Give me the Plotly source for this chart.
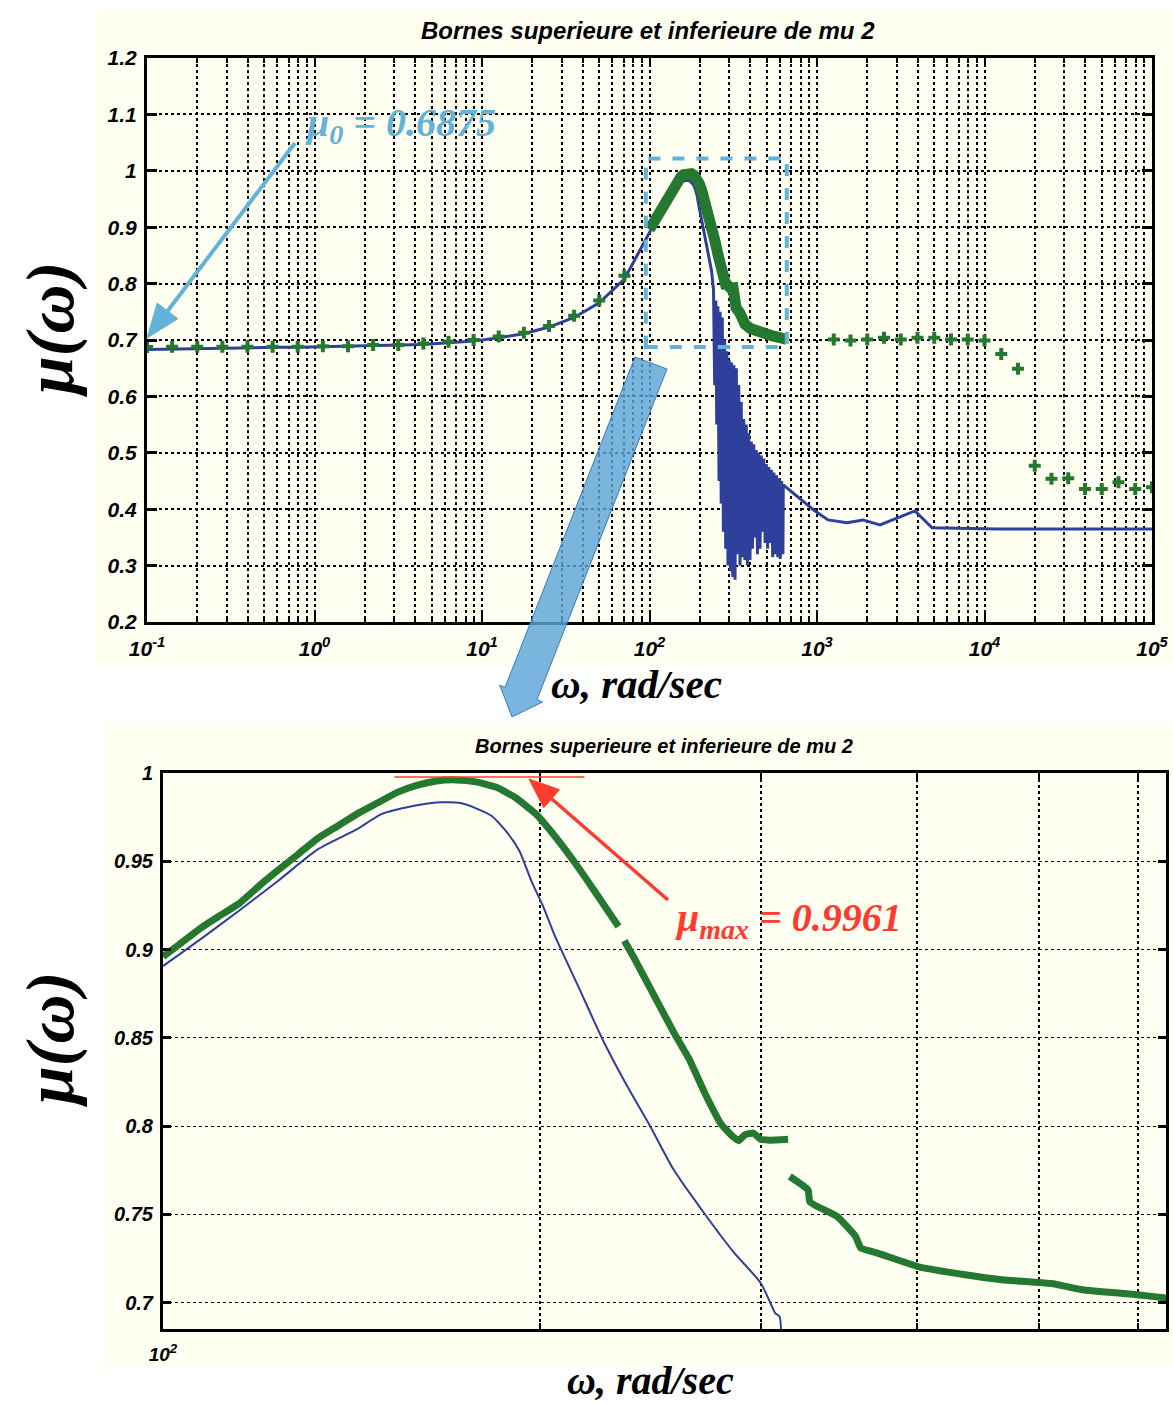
import plotly.graph_objects as go

# ------------------------------------------------------------------ data
# sparse low-frequency grid (log10 of omega)
low_exp = [-1.0, -0.85, -0.7, -0.55, -0.4, -0.25, -0.1, 0.05, 0.2, 0.35,
           0.5, 0.65, 0.8, 0.95, 1.1, 1.25, 1.4, 1.55, 1.7, 1.85]
green_low = [0.6875, 0.688, 0.688, 0.688, 0.688, 0.688, 0.688, 0.689, 0.689, 0.691,
             0.691, 0.694, 0.697, 0.700, 0.706, 0.713, 0.725, 0.743, 0.770, 0.814]
blue_low = [0.683, 0.684, 0.685, 0.686, 0.686, 0.687, 0.687, 0.688, 0.688, 0.689,
            0.690, 0.692, 0.695, 0.698, 0.704, 0.711, 0.723, 0.740, 0.766, 0.808]

# dense upper bound around the peak (None = break in the curve)
w_green_zoom = [100, 103.1, 106.9, 110.9, 115.0, 119.3, 123.6, 128.2, 132.9, 137.9,
                143.0, 148.3, 153.8, 159.4, 165.3, 171.4, 177.8, 184.4, 191.2, 198.3,
                205.6, 213.3, 221.1, 231.0, None, 233.5, 237.8, 246.6, 255.7, 263.0,
                271.0, 279.0, 285.1, 288.2, 291.4, 296.0, 300.0, 305.0, 315.5, None,
                316.5, 327.3, 328.4, 345.3, 357.2, 360.7, 371.8, 400.5, 436.9, 467.3,
                513.4, 542.0, 599.2, 632.3, 658.0]
green_zoom = [0.896, 0.903, 0.9116, 0.919, 0.926, 0.936, 0.945, 0.954, 0.963, 0.970,
              0.977, 0.983, 0.989, 0.993, 0.9955, 0.9961, 0.995, 0.992, 0.986, 0.977,
              0.964, 0.949, 0.933, 0.913, None, 0.905, 0.895, 0.874, 0.853, 0.838,
              0.818, 0.801, 0.794, 0.7917, 0.795, 0.796, 0.7925, 0.792, 0.7925, None,
              0.7714, 0.7638, 0.757, 0.7487, 0.7374, 0.7308, 0.728, 0.7204, 0.7157, 0.7129,
              0.7106, 0.7072, 0.7044, 0.7025, 0.701]

# dense lower bound around the peak
w_blue_zoom = [100, 106.9, 115.0, 123.6, 132.9, 143.0, 149.4, 158.3, 165.3, 172.7,
               177.8, 183.0, 188.4, 192.6, 196.8, 201.2, 205.6, 214.9, 224.5, 234.4,
               244.8, 255.7, 270.8, 285.1, 300.0, 305.5, 308.1, 310.6, 311.0]
blue_zoom = [0.8906, 0.9053, 0.922, 0.939, 0.9567, 0.9683, 0.9767, 0.9813, 0.9833, 0.983,
             0.980, 0.9756, 0.966, 0.9557, 0.9389, 0.9242, 0.9074, 0.878, 0.8486, 0.8234,
             0.800, 0.7752, 0.750, 0.729, 0.7111, 0.6996, 0.694, 0.692, 0.620]

# oscillating lower bound (top chart)
w_spike = [241, 245, 249, 252, 256, 260, 264, 268, 272, 276, 281, 285, 290, 294, 299,
           304, 309, 314, 319, 324, 330, 335, 341, 347, 353, 359, 365, 371, 378, 384,
           391, 398, 405, 412, 419, 426, 434, 441, 449, 457, 465, 473, 481, 490, 498,
           507, 516, 525, 534, 544, 553, 563, 573, 583, 594, 604, 615, 626]
blue_spike = [0.79, 0.62, 0.77, 0.55, 0.76, 0.45, 0.75, 0.41, 0.74, 0.36, 0.70, 0.33,
              0.68, 0.30, 0.665, 0.29, 0.66, 0.28, 0.655, 0.275, 0.65, 0.32, 0.62, 0.30,
              0.59, 0.315, 0.56, 0.31, 0.55, 0.30, 0.535, 0.31, 0.52, 0.33, 0.515, 0.35,
              0.505, 0.32, 0.50, 0.33, 0.495, 0.36, 0.49, 0.34, 0.48, 0.33, 0.475, 0.34,
              0.47, 0.315, 0.465, 0.32, 0.46, 0.315, 0.455, 0.312, 0.45, 0.32]

# high-frequency tail of the lower bound
w_blue_tail = [629, 950, 1164, 1511, 1884, 2376, 3845, 4863, 11880, 100000]
blue_tail = [0.443, 0.399, 0.381, 0.376, 0.381, 0.372, 0.397, 0.367, 0.365, 0.365]

# sparse high-frequency upper bound markers (log10 of omega)
high_exp = [3.1, 3.2, 3.3, 3.4, 3.5, 3.6, 3.7, 3.8, 3.9, 4.0,
            4.1, 4.2, 4.3, 4.4, 4.5, 4.6, 4.7, 4.8, 4.9, 5.0]
green_high = [0.701, 0.699, 0.701, 0.704, 0.701, 0.704, 0.704, 0.701, 0.701, 0.699,
              0.675, 0.649, 0.477, 0.454, 0.455, 0.436, 0.436, 0.448, 0.436, 0.439]

mu0 = 0.6875
mu_max = 0.9961

top_xticks = [0.1, 1, 10, 100, 1000, 10000, 100000]
top_xticktext = ["10<sup>-1</sup>", "10<sup>0</sup>", "10<sup>1</sup>", "10<sup>2</sup>",
                 "10<sup>3</sup>", "10<sup>4</sup>", "10<sup>5</sup>"]
top_yticks = [0.2, 0.3, 0.4, 0.5, 0.6, 0.7, 0.8, 0.9, 1.0, 1.1, 1.2]
top_yticktext = ["0.2", "0.3", "0.4", "0.5", "0.6", "0.7", "0.8", "0.9", "1", "1.1", "1.2"]
bot_xticks = [100]
bot_xticktext = ["10<sup>2</sup>"]
bot_xminor = [200, 300, 400, 500, 600]
bot_yticks = [0.7, 0.75, 0.8, 0.85, 0.9, 0.95, 1.0]
bot_yticktext = ["0.7", "0.75", "0.8", "0.85", "0.9", "0.95", "1"]

title_text = "Bornes superieure et inferieure de mu 2"

# ------------------------------------------------------------------ styles
W, H = 1173, 1404
CREAM = "#FFFFF2"
GREEN = "#25782F"
BLUE = "#2E3F9C"
LBLUE = "#63B3D8"
RED = "#FF3B2F"
SANS = "Liberation Sans"
SERIF = "Liberation Serif"


def px(x):
    return x / W


def py(y):
    return 1 - y / H


w_low = [10 ** e for e in low_exp]
w_high = [10 ** e for e in high_exp]

# top-chart lower bound: low part + smooth part up to the first spike + spikes + tail
n_smooth = 20
w_blue_top = w_low + w_blue_zoom[:n_smooth] + w_spike + w_blue_tail
blue_top = blue_low + blue_zoom[:n_smooth] + blue_spike + blue_tail

fig = go.Figure()

# ---- top chart
fig.add_trace(go.Scatter(x=w_blue_top, y=blue_top, mode="lines",
                         line=dict(color=BLUE, width=3), xaxis="x", yaxis="y"))
fig.add_trace(go.Scatter(x=w_green_zoom, y=green_zoom, mode="lines",
                         line=dict(color=GREEN, width=11), connectgaps=True,
                         xaxis="x", yaxis="y"))
fig.add_trace(go.Scatter(x=w_low + w_high, y=green_low + green_high, mode="markers",
                         marker=dict(symbol="cross", size=10, color=GREEN,
                                     line=dict(width=0)), xaxis="x", yaxis="y"))

# ---- bottom chart
fig.add_trace(go.Scatter(x=w_blue_zoom, y=blue_zoom, mode="lines",
                         line=dict(color=BLUE, width=2, shape="spline", smoothing=0.6),
                         xaxis="x2", yaxis="y2"))
fig.add_trace(go.Scatter(x=w_green_zoom, y=green_zoom, mode="lines",
                         line=dict(color=GREEN, width=7, shape="spline", smoothing=0.4),
                         connectgaps=False, xaxis="x2", yaxis="y2"))

tickfont_top = dict(family=SANS, size=21, color="black", weight="bold", style="italic")
tickfont_bot = dict(family=SANS, size=20, color="black", weight="bold", style="italic")

grid_common = dict(showgrid=True, gridcolor="black", griddash="dot",
                   showline=True, linecolor="black", mirror="ticks",
                   ticks="inside", tickcolor="black", zeroline=False,
                   automargin=False)

minor_vals = [m * 10 ** d for d in range(-1, 5) for m in range(2, 10)]

fig.update_layout(
    width=W, height=H,
    margin=dict(l=0, r=0, t=0, b=0),
    paper_bgcolor="white",
    plot_bgcolor=CREAM,
    showlegend=False,
    xaxis=dict(type="log", range=[-1, 5],
               domain=[px(147), px(1152)], anchor="y",
               tickmode="array", tickvals=top_xticks, ticktext=top_xticktext,
               tickfont=tickfont_top, ticklen=9, tickwidth=2, linewidth=3,
               gridwidth=2, ticklabelstandoff=6,
               minor=dict(tickmode="array", tickvals=minor_vals, ticks="inside",
                          ticklen=5, tickcolor="black", showgrid=True,
                          gridcolor="black", griddash="dot", gridwidth=2),
               **grid_common),
    yaxis=dict(range=[0.2, 1.2], domain=[py(622), py(58)], anchor="x",
               tickmode="array", tickvals=top_yticks, ticktext=top_yticktext,
               tickfont=tickfont_top, ticklen=10, tickwidth=3, linewidth=3,
               gridwidth=2, ticklabelstandoff=3,
               **grid_common),
    xaxis2=dict(type="log", range=[2, 2.8007],
                domain=[px(163), px(1166)], anchor="y2",
                tickmode="array", tickvals=bot_xticks, ticktext=bot_xticktext,
                tickfont=dict(family=SANS, size=19, color="black", weight="bold",
                              style="italic"),
                ticklen=6, tickwidth=2, linewidth=3, gridwidth=2,
                ticklabelstandoff=6,
                minor=dict(tickmode="array", tickvals=bot_xminor, ticks="inside",
                           ticklen=6, tickcolor="black", showgrid=True,
                           gridcolor="black", griddash="dot", gridwidth=2),
                **grid_common),
    yaxis2=dict(range=[0.685, 1.0], domain=[py(1329), py(773)], anchor="x2",
                tickmode="array", tickvals=bot_yticks, ticktext=bot_yticktext,
                tickfont=tickfont_bot, ticklen=8, tickwidth=3, linewidth=3,
                gridwidth=1, ticklabelstandoff=3,
                **grid_common),
)


def arrow_shapes(tail, tip, color, width, head_len, head_half):
    """Line + filled triangular head in paper coordinates (figure pixels in)."""
    tx, ty = tail
    hx, hy = tip
    dx, dy = hx - tx, hy - ty
    n = (dx * dx + dy * dy) ** 0.5
    ux, uy = dx / n, dy / n
    bx, by = hx - head_len * ux, hy - head_len * uy
    pxv, pyv = -uy, ux
    w1 = (bx + head_half * pxv, by + head_half * pyv)
    w2 = (bx - head_half * pxv, by - head_half * pyv)
    line = dict(type="line", xref="paper", yref="paper", x0=px(tx), y0=py(ty),
                x1=px(bx), y1=py(by), line=dict(color=color, width=width),
                layer="above")
    tri = dict(type="path", xref="paper", yref="paper",
               path=f"M {px(hx):.5f},{py(hy):.5f} L {px(w1[0]):.5f},{py(w1[1]):.5f} "
                    f"L {px(w2[0]):.5f},{py(w2[1]):.5f} Z",
               fillcolor=color, line=dict(color=color, width=1), layer="above")
    return [line, tri]


shapes = []
# cream figure backgrounds
shapes.append(dict(type="rect", xref="paper", yref="paper", layer="below",
                   x0=px(95), x1=px(1173), y0=py(665), y1=py(12),
                   fillcolor=CREAM, line=dict(width=0)))
shapes.append(dict(type="rect", xref="paper", yref="paper", layer="below",
                   x0=px(105), x1=px(1173), y0=py(1368), y1=py(722),
                   fillcolor=CREAM, line=dict(width=0)))
# dashed zoom box on the top chart (data coordinates)
shapes.append(dict(type="rect", xref="x", yref="y", x0=95, x1=660, y0=mu0, y1=1.022,
                   line=dict(color=LBLUE, width=4, dash="dash"), layer="above"))
# red mu_max line on the bottom chart
shapes.append(dict(type="line", xref="x2", yref="y2", x0=153, x1=217,
                   y0=0.9978, y1=0.9978, line=dict(color=RED, width=1.5)))
# big translucent arrow between the two charts
pts = [(635, 357), (667, 369), (537, 699.5), (542.5, 702), (512, 717),
       (499.7, 685), (505, 687.5)]
path = "M " + " L ".join(f"{px(a):.5f},{py(b):.5f}" for a, b in pts) + " Z"
shapes.append(dict(type="path", xref="paper", yref="paper", path=path,
                   fillcolor="rgba(92,165,216,0.82)",
                   line=dict(color="rgb(55,125,190)", width=1), layer="above"))
# thin arrows
shapes += arrow_shapes((295, 143), (147, 338), LBLUE, 4, 34, 13)
shapes += arrow_shapes((668, 900), (529, 779), RED, 3.5, 30, 12)
fig.update_layout(shapes=shapes)

ann_font_title = dict(family=SANS, color="black", weight="bold", style="italic")
annotations = [
    dict(text=title_text, x=px(648), y=py(31), font=dict(size=24, **ann_font_title)),
    dict(text=title_text, x=px(664), y=py(746), font=dict(size=20, **ann_font_title)),
    dict(text="μ(ω)", x=px(50), y=py(330), textangle=-90,
         font=dict(family=SERIF, size=68, color="black", weight="bold", style="italic")),
    dict(text="μ(ω)", x=px(50), y=py(1040), textangle=-90,
         font=dict(family=SERIF, size=68, color="black", weight="bold", style="italic")),
    dict(text="ω, rad/sec", x=px(636), y=py(684),
         font=dict(family=SERIF, size=41, color="black", weight="bold", style="italic")),
    dict(text="ω, rad/sec", x=px(650), y=py(1380),
         font=dict(family=SERIF, size=40, color="black", weight="bold", style="italic")),
    dict(text=f"μ<sub>0</sub> = {mu0}", x=px(400), y=py(125),
         font=dict(family=SERIF, size=40, color=LBLUE, weight="bold", style="italic")),
    dict(text=f"μ<sub>max</sub> = {mu_max}", x=px(788), y=py(920),
         font=dict(family=SERIF, size=40, color=RED, weight="bold", style="italic")),
]
for a in annotations:
    a.update(xref="paper", yref="paper", showarrow=False,
             xanchor="center", yanchor="middle")
fig.update_layout(annotations=annotations)

fig.write_html("out.html",
               config={"displayModeBar": False},
               post_script="document.body.style.margin='0px';"
                           "document.body.style.overflow='hidden';")
